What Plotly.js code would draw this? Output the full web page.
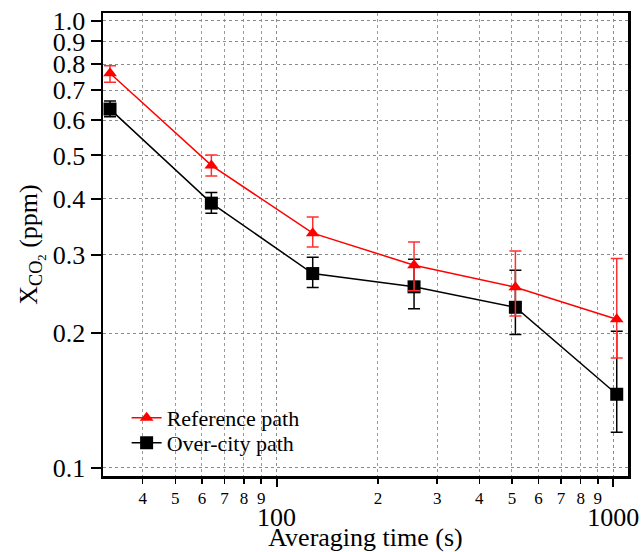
<!DOCTYPE html>
<html>
<head>
<meta charset="utf-8">
<script src="https://cdn.plot.ly/plotly-3.0.1.min.js"></script>
<style>html,body{margin:0;padding:0;background:#fff;}#chart{width:641px;height:552px;}</style>
</head>
<body>
<div id="chart"></div>
<script>
// Averaging time (s)
const avgTime = [32, 64, 128, 256, 512, 1024];
// Reference path
const refY      = [0.764, 0.475, 0.335, 0.284, 0.2535, 0.215];
const refErrUp  = [0.030, 0.026, 0.029, 0.036, 0.052, 0.079];
const refErrDn  = [0.035, 0.025, 0.023, 0.035, 0.035, 0.039];
// Over-city path
const cityY     = [0.635, 0.391, 0.272, 0.254, 0.2286, 0.146];
const cityErrUp = [0.027, 0.022, 0.024, 0.039, 0.048, 0.056];
const cityErrDn = [0.025, 0.020, 0.019, 0.027, 0.030, 0.026];

const minorTicks = [40, 50, 60, 70, 80, 90, 200, 300, 400, 500, 600, 700, 800, 900];
const minorText  = ['4','5','6','7','8','9','2','3','4','5','6','7','8','9'];
const majorTicks = [100, 1000];
const majorText  = ['100', '1000'];
const yTicks = [0.1,0.2,0.3,0.4,0.5,0.6,0.7,0.8,0.9,1.0];
const yText  = ['0.1','0.2','0.3','0.4','0.5','0.6','0.7','0.8','0.9','1.0'];

const serif = '"Liberation Serif", "DejaVu Serif", serif';
const xRange = [Math.log10(30.5), Math.log10(1106)];
const yRange = [Math.log10(0.0958), Math.log10(1.042)];

const traces = [
  {
    x: avgTime, y: cityY, name: 'Over-city path', type: 'scatter', mode: 'lines+markers',
    legend: 'legend2',
    line: {color: '#000000', width: 1.5},
    marker: {symbol: 'square', size: 13, color: '#000000'},
    error_y: {type: 'data', symmetric: false, array: cityErrUp, arrayminus: cityErrDn,
              color: '#000000', thickness: 1.5, width: 6}
  },
  {
    x: avgTime, y: refY, name: 'Reference path', type: 'scatter', mode: 'lines+markers',
    legend: 'legend',
    line: {color: '#ff0000', width: 1.5},
    marker: {symbol: 'triangle-up', size: 12, color: '#ff0000'},
    error_y: {type: 'data', symmetric: false, array: refErrUp, arrayminus: refErrDn,
              color: '#ff3030', thickness: 1.5, width: 6}
  },
  {
    x: [avgTime[0]], y: [refY[0]], xaxis: 'x2', showlegend: false, hoverinfo: 'skip',
    mode: 'markers', marker: {opacity: 0}
  }
];

const legendFont = {family: serif, size: 22, color: '#000000'};
const layout = {
  width: 641, height: 552,
  margin: {l: 103, r: 13, t: 13, b: 76},
  paper_bgcolor: '#ffffff', plot_bgcolor: '#ffffff',
  font: {family: serif, color: '#000000'},
  showlegend: true,
  legend: {
    x: 0.045, y: 0.1253, xanchor: 'left', yanchor: 'middle',
    bgcolor: 'rgba(0,0,0,0)', font: legendFont
  },
  legend2: {
    x: 0.045, y: 0.0713, xanchor: 'left', yanchor: 'middle',
    bgcolor: 'rgba(0,0,0,0)', font: legendFont
  },
  xaxis: {
    type: 'log', range: xRange,
    tickmode: 'array', tickvals: minorTicks, ticktext: minorText,
    ticks: 'outside', ticklen: 5, tickwidth: 1.5, tickcolor: '#000',
    tickfont: {family: serif, size: 17, color: '#000'},
    showgrid: true, gridcolor: '#9a9a9a', gridwidth: 1, griddash: 'dot',
    showline: true, linecolor: '#000', linewidth: 2.5, mirror: true,
    zeroline: false,
    title: {text: 'Averaging time (s)', font: {family: serif, size: 26, color: '#000'}, standoff: 30}
  },
  xaxis2: {
    type: 'log', range: xRange, overlaying: 'x', anchor: 'y', side: 'bottom',
    tickmode: 'array', tickvals: majorTicks, ticktext: majorText,
    ticks: 'outside', ticklen: 10, tickwidth: 2, tickcolor: '#000',
    tickfont: {family: serif, size: 26, color: '#000'},
    ticklabelstandoff: 8,
    showgrid: true, gridcolor: '#8a8a8a', gridwidth: 1, griddash: 'dot',
    showline: false, zeroline: false
  },
  yaxis: {
    type: 'log', range: yRange,
    tickmode: 'array', tickvals: yTicks, ticktext: yText,
    ticks: 'outside', ticklen: 10, tickwidth: 2, tickcolor: '#000',
    tickfont: {family: serif, size: 26, color: '#000'},
    showgrid: true, gridcolor: '#8a8a8a', gridwidth: 1, griddash: 'dot',
    showline: true, linecolor: '#000', linewidth: 2.5, mirror: true,
    zeroline: false,
    title: {text: 'X<sub>CO<sub>2</sub></sub> (ppm)', font: {family: serif, size: 26, color: '#000'}, standoff: 8}
  }
};

Plotly.newPlot('chart', traces, layout, {displayModeBar: false, staticPlot: true});
</script>
</body>
</html>
